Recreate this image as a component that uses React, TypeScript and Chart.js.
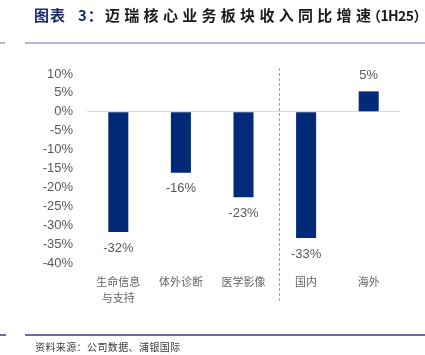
import React, { useEffect, useRef } from "react";
import { Chart, registerables } from "chart.js";

Chart.register(...registerables);

const categories: string[][] = [["生命信息", "与支持"], ["体外诊断"], ["医学影像"], ["国内"], ["海外"]];
const growth: number[] = [-31.8, -16.1, -22.6, -33.4, 5.4];
const yMin = -40;
const yMax = 10;
const yStep = 5;

const TITLE_A = "图表";
const TITLE_B = "3：";
const TITLE_MAIN = "迈瑞核心业务板块收入同比增速";
const TITLE_TAIL = "（1H25）";
const SOURCE = "资料来源：公司数据、浦银国际";

const BAR_COLOR = "#022a78";
const TEXT_GREY = "#595959";

const overlayPlugin = {
  id: "overlay",
  afterDatasetsDraw(chart: any) {
    const { ctx, chartArea, scales } = chart;
    const meta = chart.getDatasetMeta(0);
    ctx.save();
    ctx.font = "13px 'Liberation Sans', Arial, sans-serif";
    ctx.fillStyle = TEXT_GREY;
    ctx.textAlign = "center";
    ctx.textBaseline = "middle";
    meta.data.forEach((bar: any, i: number) => {
      const v = growth[i];
      const y = v < 0 ? bar.y + 16 : bar.y - 16;
      ctx.fillText(Math.round(v) + "%", bar.x, y);
    });
    const xs = scales.x;
    const sepX = Math.round((xs.getPixelForValue(2) + xs.getPixelForValue(3)) / 2 + 4) + 0.5;
    ctx.strokeStyle = "#a8a887";
    ctx.lineWidth = 1;
    ctx.setLineDash([3, 2]);
    ctx.beginPath();
    ctx.moveTo(sepX, chartArea.top - 6);
    ctx.lineTo(sepX, chartArea.bottom + 40);
    ctx.stroke();
    ctx.restore();
  },
};

export default function App() {
  const canvasRef = useRef<HTMLCanvasElement | null>(null);

  useEffect(() => {
    if (!canvasRef.current) return;
    const chart = new Chart(canvasRef.current, {
      type: "bar",
      data: {
        labels: categories as any,
        datasets: [
          {
            data: growth,
            backgroundColor: BAR_COLOR,
            borderWidth: 0,
            barPercentage: 0.4,
            categoryPercentage: 0.8,
          },
        ],
      },
      options: {
        animation: false,
        responsive: false,
        maintainAspectRatio: false,
        layout: { padding: { left: 0, right: 25, top: 74, bottom: 0 } },
        plugins: { legend: { display: false }, tooltip: { enabled: false } },
        scales: {
          x: {
            grid: { display: false, drawTicks: false },
            border: { display: false },
            ticks: {
              color: "#666666",
              padding: 11,
              maxRotation: 0,
              autoSkip: false,
              font: { size: 11, family: "'Noto Sans CJK SC', sans-serif", lineHeight: 1.45 },
            },
            afterFit: (s: any) => {
              s.height = 92;
            },
          },
          y: {
            min: yMin,
            max: yMax,
            border: { display: false },
            grid: {
              drawTicks: false,
              color: (c: any) => (c.tick && c.tick.value === 0 ? "#d9d9d9" : "rgba(0,0,0,0)"),
              lineWidth: 1,
            },
            ticks: {
              stepSize: yStep,
              padding: 14,
              color: TEXT_GREY,
              font: { size: 13, family: "'Liberation Sans', Arial, sans-serif" },
              callback: (v: any) => v + "%",
            },
            afterFit: (s: any) => {
              s.width = 87;
            },
          },
        },
      },
      plugins: [overlayPlugin],
    });
    return () => chart.destroy();
  }, []);

  const titleBase: React.CSSProperties = {
    position: "absolute",
    top: 5,
    fontSize: 15,
    fontWeight: 700,
    lineHeight: "20px",
    whiteSpace: "nowrap",
  };

  return (
    <div
      style={{
        position: "fixed",
        left: 0,
        top: 0,
        width: 425,
        height: 355,
        background: "#ffffff",
        overflow: "hidden",
        fontFamily: "'Noto Sans CJK SC', sans-serif",
      }}
    >
      <canvas ref={canvasRef} width={425} height={355} style={{ position: "absolute", left: 0, top: 0 }} />
      <div style={{ ...titleBase, left: 34, color: "#1c2a6e", letterSpacing: 1 }}>{TITLE_A}</div>
      <div style={{ ...titleBase, left: 78, color: "#1c2a6e", letterSpacing: 1 }}>{TITLE_B}</div>
      <div style={{ ...titleBase, left: 105, color: "#1a1a1a", letterSpacing: 4.3 }}>{TITLE_MAIN}</div>
      <div style={{ ...titleBase, left: 367, color: "#1a1a1a", fontSize: 14, top: 5, letterSpacing: -0.6 }}>
        {TITLE_TAIL}
      </div>
      <div style={{ position: "absolute", left: 0, top: 42, width: 5, height: 2, background: "#b7b4d8" }} />
      <div style={{ position: "absolute", left: 25, top: 42, width: 400, height: 2, background: "#b7b4d8" }} />
      <div style={{ position: "absolute", left: 0, top: 334, width: 6, height: 1.5, background: "#7268ad" }} />
      <div style={{ position: "absolute", left: 25, top: 334, width: 400, height: 1.5, background: "#7268ad" }} />
      <div
        style={{
          position: "absolute",
          left: 35,
          top: 340,
          fontSize: 10,
          lineHeight: "14px",
          color: "#3a3a3a",
          whiteSpace: "nowrap",
          letterSpacing: 0.4,
        }}
      >
        {SOURCE}
      </div>
    </div>
  );
}
